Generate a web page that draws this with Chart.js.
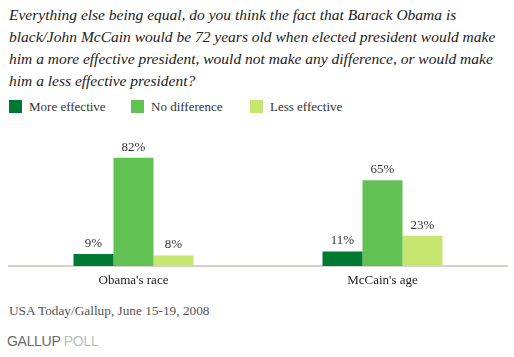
<!DOCTYPE html>
<html><head><meta charset="utf-8">
<script src="https://cdn.jsdelivr.net/npm/chart.js@4/dist/chart.umd.min.js"></script>
<style>
html,body{margin:0;padding:0;background:#fff;width:514px;height:357px;overflow:hidden;position:relative}
#q{position:absolute;left:9px;top:4px;width:505px;font:italic 15.5px "Liberation Serif",serif;line-height:22px;color:#222}
#legend{position:absolute;left:9px;top:99px;font:13px "Liberation Serif",serif;color:#333}
.li{position:absolute;top:0;white-space:nowrap}
.sw{position:absolute;top:1px;left:0;width:13px;height:13px}
.lt{position:absolute;left:20px;top:0;line-height:15px}
#src{position:absolute;left:9px;top:303px;font:13.3px "Liberation Serif",serif;color:#555}
#logo{position:absolute;left:7px;top:333px;font:14px "Liberation Sans",sans-serif;letter-spacing:-0.3px}
#wrap{position:absolute;left:0;top:120px;width:514px;height:175px}
</style></head>
<body>
<div id="q">Everything else being equal, do you think the fact that Barack Obama is black/John McCain would be 72 years old when elected president would make him a more effective president, would not make any difference, or would make him a less effective president?</div>
<div id="legend"></div>
<div id="wrap"><canvas id="c"></canvas></div>
<div id="src">USA Today/Gallup, June 15-19, 2008</div>
<div id="logo"><span style="color:#6a6a6a">GALLUP</span> <span style="color:#bdbdbd">POLL</span></div>
<script>
const categories = ["Obama's race", "McCain's age"];
const seriesNames = ["More effective", "No difference", "Less effective"];
const moreEffective = [9, 11];
const noDifference = [82, 65];
const lessEffective = [8, 23];
const colors = ["#007a33", "#62c153", "#c6e670"];

const legendPos = [0, 122, 241];
const lg = document.getElementById('legend');
seriesNames.forEach((n,i)=>{
  const d=document.createElement('div');d.className='li';d.style.left=legendPos[i]+'px';
  d.innerHTML='<div class="sw" style="background:'+colors[i]+'"></div><div class="lt">'+n+'</div>';
  lg.appendChild(d);
});

const labelPlugin = {
  id:'vals',
  afterDatasetsDraw(chart){
    const ctx=chart.ctx;ctx.save();
    ctx.font='13px "Liberation Serif", serif';ctx.fillStyle='#333';ctx.textAlign='center';ctx.textBaseline='bottom';
    chart.data.datasets.forEach((ds,i)=>{
      chart.getDatasetMeta(i).data.forEach((bar,j)=>{
        ctx.fillText(ds.data[j]+'%', bar.x, bar.y-4);
      });
    });
    ctx.restore();
  }
};

new Chart(document.getElementById('c'),{
  type:'bar',
  data:{labels:categories,datasets:[
    {label:seriesNames[0],data:moreEffective,backgroundColor:colors[0]},
    {label:seriesNames[1],data:noDifference,backgroundColor:colors[1]},
    {label:seriesNames[2],data:lessEffective,backgroundColor:colors[2]}
  ]},
  options:{
    responsive:true,maintainAspectRatio:false,animation:false,
    layout:{padding:{left:9,right:7,top:14,bottom:0}},
    datasets:{bar:{categoryPercentage:0.482,barPercentage:1,borderWidth:0}},
    plugins:{legend:{display:false},tooltip:{enabled:false}},
    scales:{
      y:{display:false,min:0,max:100},
      x:{
        grid:{display:false,drawTicks:false},
        border:{display:true,color:'#d3d3cc',width:2},
        ticks:{padding:7,color:'#222',font:{family:'"Liberation Serif", serif',size:13}},
        afterFit(s){s.height=29;}
      }
    }
  },
  plugins:[labelPlugin]
});
</script>
</body></html>
